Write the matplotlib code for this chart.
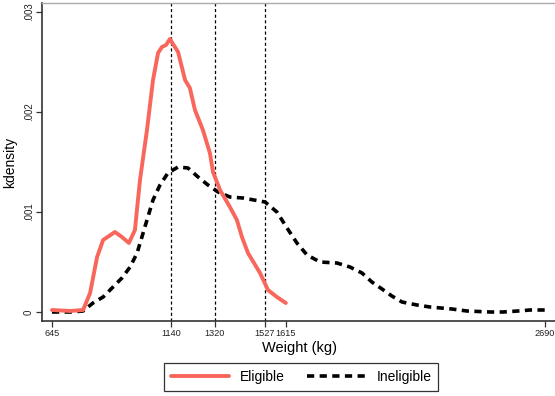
import matplotlib
matplotlib.use("Agg")
import matplotlib.pyplot as plt

plt.rcParams["font.family"] = ["Liberation Sans", "DejaVu Sans"]

# kernel density of vehicle weight, by eligibility
elig_kg = [645, 720, 774, 803, 832, 857, 906, 935, 964, 989, 1010, 1039, 1064,
           1085, 1101, 1118, 1134, 1168, 1197, 1217, 1238, 1271, 1300, 1313,
           1342, 1383, 1412, 1433, 1458, 1508, 1541, 1578, 1615]
elig_dens = [0.00002, 0.00001, 0.00002, 0.00019, 0.00055, 0.00072, 0.00080,
             0.00075, 0.00069, 0.00082, 0.00132, 0.00182, 0.00232, 0.00259,
             0.00265, 0.00267, 0.00273, 0.00260, 0.00232, 0.00224, 0.00202,
             0.00182, 0.00159, 0.00140, 0.00122, 0.00105, 0.00092, 0.00075,
             0.00059, 0.00039, 0.00022, 0.00015, 0.00009]

inel_kg = [645, 720, 774, 815, 857, 894, 935, 969, 998, 1018, 1039, 1064, 1093,
           1126, 1168, 1209, 1251, 1292, 1334, 1383, 1437, 1529, 1578, 1620,
           1661, 1703, 1757, 1827, 1881, 1931, 1972, 2014, 2055, 2097, 2159,
           2213, 2304, 2366, 2462, 2516, 2578, 2628, 2690]
inel_dens = [0.0, 0.0, 0.00001, 0.00009, 0.00015, 0.00024, 0.00034, 0.00045,
             0.00059, 0.00075, 0.00092, 0.00112, 0.00127, 0.00139, 0.00145,
             0.00144, 0.00135, 0.00127, 0.00120, 0.00115, 0.00114, 0.00110,
             0.00100, 0.00084, 0.00069, 0.00057, 0.00050, 0.00049, 0.00045,
             0.00039, 0.00030, 0.00023, 0.00016, 0.00010, 0.00007, 0.00005,
             0.00003, 0.00001, 0.0, 0.0, 0.00001, 0.00002, 0.00002]

cutoffs = [1140, 1320, 1527]
xticks = [645, 1140, 1320, 1527, 1615, 2690]
yticks = [0, 0.001, 0.002, 0.003]
ytick_labels = ["0", ".001", ".002", ".003"]

fig = plt.figure(figsize=(5.55, 3.96), dpi=100)
ax = fig.add_axes([42 / 555, 75 / 396, 515 / 555, 318 / 396])

for c in cutoffs:
    ax.axvline(c, color="black", lw=0.9, linestyle=(0, (2.5, 2)), zorder=1)

ax.plot(elig_kg, elig_dens, color="#F8665C", lw=2.8, label="Eligible",
        solid_joinstyle="round", solid_capstyle="round", zorder=3)
ax.plot(inel_kg, inel_dens, color="black", lw=2.6, linestyle=(0, (2.0, 1.5)),
        dash_joinstyle="round", label="Ineligible", zorder=2)

ax.set_xlim(603.5, 2740)
ax.set_ylim(-0.00009, 0.00309)

ax.set_xticks(xticks)
ax.set_xticklabels([str(t) for t in xticks], fontsize=6.6, color="#222222")
ax.set_yticks(yticks)
ax.set_yticklabels(ytick_labels, fontsize=7, rotation=90, va="center",
                   color="#222222")
ax.tick_params(direction="out", length=4, width=0.9, color="#333333", pad=2)

for side in ["left", "bottom"]:
    ax.spines[side].set_linewidth(1.2)
    ax.spines[side].set_color("#333333")
ax.spines["top"].set_color("#aaaaaa")
ax.spines["top"].set_linewidth(1.0)
ax.spines["right"].set_visible(False)

ax.set_ylabel("kdensity", fontsize=10, labelpad=5)
ax.xaxis.set_label_coords((300 - 42) / 515, -0.062)
ax.set_xlabel("Weight (kg)", fontsize=10.5)

leg = fig.legend(loc="center", bbox_to_anchor=(301 / 555, 1 - 377 / 396),
                 ncol=2, fontsize=10, frameon=True, fancybox=False,
                 edgecolor="black", handlelength=4.2, columnspacing=1.6,
                 borderpad=0.5)
leg.get_frame().set_linewidth(0.9)

fig.savefig("out.png", dpi=100)
